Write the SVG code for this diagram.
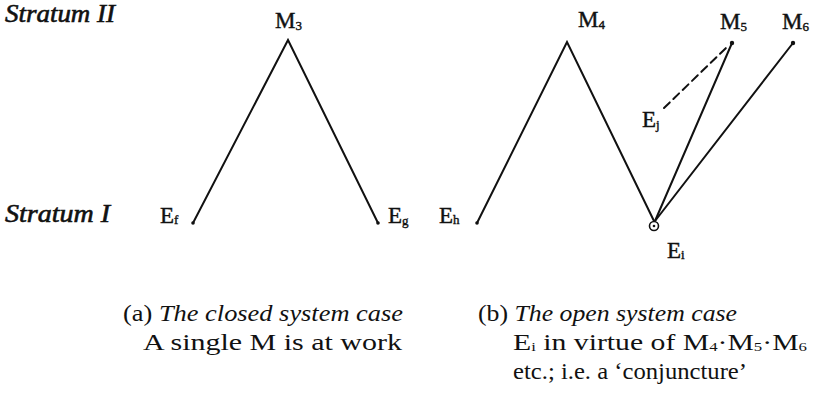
<svg xmlns="http://www.w3.org/2000/svg" width="821" height="399" viewBox="0 0 821 399">
<style>
text{font-family:"Liberation Serif","Times New Roman",serif;fill:#111}
.it{font-style:italic}
.heavy{stroke:#111;stroke-width:0.6}
.lbl{font-size:23px;stroke:#111;stroke-width:0.4}
.sub{font-size:13px}
.cap{font-size:23px}
.ln{stroke:#111;stroke-width:2;fill:none;stroke-linecap:round}
</style>
<rect width="821" height="399" fill="#fff"/>
<g id="strata">
<text class="it heavy" x="5" y="22" font-size="25" textLength="110" lengthAdjust="spacingAndGlyphs">Stratum II</text>
<text class="it heavy" x="5" y="222" font-size="25" textLength="105" lengthAdjust="spacingAndGlyphs">Stratum I</text>
</g>
<g id="connectors">
<polyline class="ln" points="193,223 288,40 378,223"/>
<polyline class="ln" points="477,223 567,42 654,221"/>
<line class="ln" x1="655" y1="221" x2="732" y2="43"/>
<line class="ln" x1="655" y1="221" x2="793" y2="43"/>
<line class="ln" x1="664" y1="108" x2="727" y2="47" stroke-dasharray="8,5" stroke-linecap="butt"/>
</g>
<g id="M3"><text class="lbl" x="275" y="28">M<tspan class="sub" dy="2">3</tspan></text></g>
<g id="M4"><text class="lbl" x="578" y="27">M<tspan class="sub" dy="2">4</tspan></text></g>
<g id="M5"><text class="lbl" x="720" y="29">M<tspan class="sub" dy="2">5</tspan></text><circle cx="732" cy="43" r="2.2" fill="#111"/></g>
<g id="M6"><text class="lbl" x="782" y="29">M<tspan class="sub" dy="2">6</tspan></text><circle cx="793" cy="43" r="2.2" fill="#111"/></g>
<g id="Ef"><text class="lbl" x="160" y="223">E<tspan class="sub" dy="1">f</tspan></text><circle cx="193" cy="223" r="1.8" fill="#111"/></g>
<g id="Eg"><text class="lbl" x="388" y="223">E<tspan class="sub" dy="2">g</tspan></text><circle cx="378" cy="223" r="1.8" fill="#111"/></g>
<g id="Eh"><text class="lbl" x="439" y="223">E<tspan class="sub" dy="1">h</tspan></text><circle cx="477" cy="223" r="1.8" fill="#111"/></g>
<g id="Ej"><text class="lbl" x="642" y="127">E<tspan class="sub" dy="2">j</tspan></text></g>
<g id="Ei">
<circle cx="654" cy="226" r="4.5" fill="#fff" stroke="#111" stroke-width="1.6"/>
<circle cx="654" cy="226" r="1.3" fill="#111"/>
<text class="lbl" x="667" y="258">E<tspan class="sub" dy="1">i</tspan></text>
</g>
<g id="caption-a">
<text class="cap" x="123" y="321" textLength="280" lengthAdjust="spacingAndGlyphs">(a) <tspan class="it">The closed system case</tspan></text>
<text class="cap" x="143" y="350" textLength="259" lengthAdjust="spacingAndGlyphs">A single M is at work</text>
</g>
<g id="caption-b">
<text class="cap" x="478" y="321" textLength="259" lengthAdjust="spacingAndGlyphs">(b) <tspan class="it">The open system case</tspan></text>
<text class="cap" x="513" y="350" textLength="294" lengthAdjust="spacingAndGlyphs">E<tspan class="sub" dy="1">i</tspan><tspan dy="-1"> in virtue of M</tspan><tspan class="sub" dy="1">4</tspan><tspan dy="-1">·M</tspan><tspan class="sub" dy="1">5</tspan><tspan dy="-1">·M</tspan><tspan class="sub" dy="1">6</tspan></text>
<text class="cap" x="513" y="379" textLength="234" lengthAdjust="spacingAndGlyphs">etc.; i.e. a ‘conjuncture’</text>
</g>
</svg>
